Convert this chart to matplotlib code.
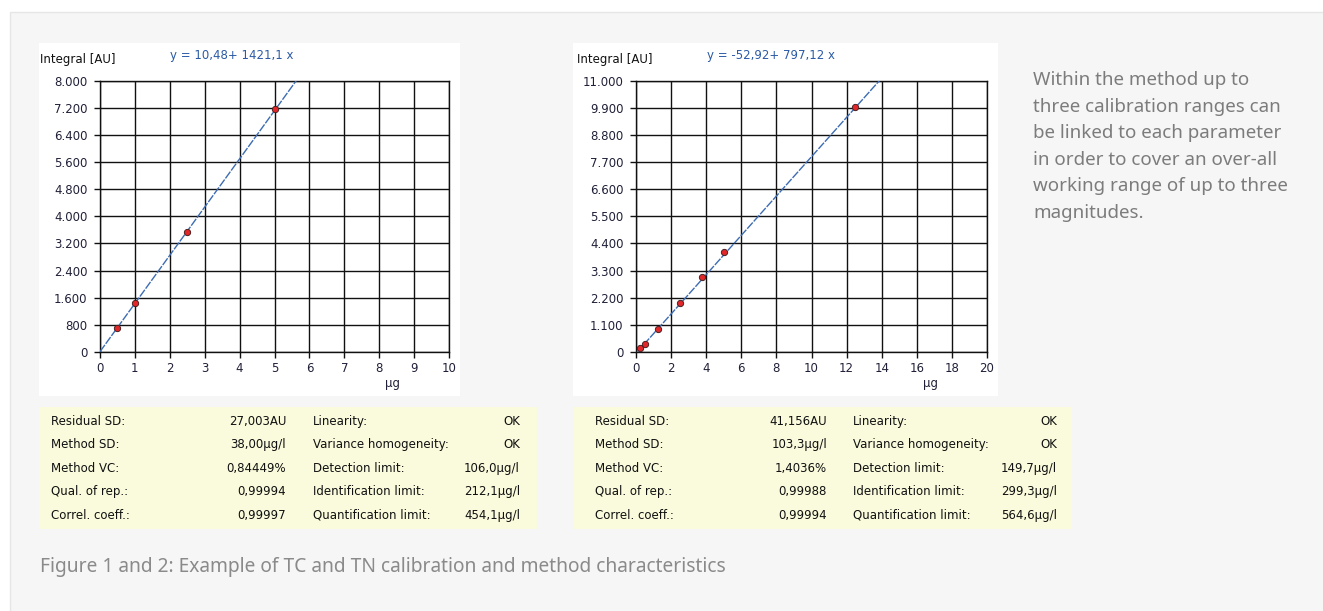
import matplotlib
matplotlib.use("Agg")
import matplotlib.pyplot as plt
from matplotlib.patches import Rectangle
from matplotlib.ticker import FuncFormatter, MultipleLocator

# ---------------- data ----------------
tc_x = [0.5, 1.0, 2.5, 5.0]
tc_y = [720, 1445, 3545, 7160]
tc_intercept, tc_slope = 10.48, 1421.1
tc_equation = "y = 10,48+ 1421,1 x"
tc_xmax, tc_ymax, tc_ystep, tc_xstep = 10, 8000, 800, 1

tn_x = [0.25, 0.5, 1.25, 2.5, 3.75, 5.0, 12.5]
tn_y = [160, 330, 930, 1980, 3030, 4070, 9930]
tn_intercept, tn_slope = -52.92, 797.12
tn_equation = "y = -52,92+ 797,12 x"
tn_xmax, tn_ymax, tn_ystep, tn_xstep = 20, 11000, 1100, 2

tc_stats_left = [("Residual SD:", "27,003AU"), ("Method SD:", "38,00µg/l"),
                 ("Method VC:", "0,84449%"), ("Qual. of rep.:", "0,99994"),
                 ("Correl. coeff.:", "0,99997")]
tc_stats_right = [("Linearity:", "OK"), ("Variance homogeneity:", "OK"),
                  ("Detection limit:", "106,0µg/l"), ("Identification limit:", "212,1µg/l"),
                  ("Quantification limit:", "454,1µg/l")]
tn_stats_left = [("Residual SD:", "41,156AU"), ("Method SD:", "103,3µg/l"),
                 ("Method VC:", "1,4036%"), ("Qual. of rep.:", "0,99988"),
                 ("Correl. coeff.:", "0,99994")]
tn_stats_right = [("Linearity:", "OK"), ("Variance homogeneity:", "OK"),
                  ("Detection limit:", "149,7µg/l"), ("Identification limit:", "299,3µg/l"),
                  ("Quantification limit:", "564,6µg/l")]

side_text = ("Within the method up to\nthree calibration ranges can\nbe linked to each parameter\n"
             "in order to cover an over-all\nworking range of up to three\nmagnitudes.")
caption = "Figure 1 and 2: Example of TC and TN calibration and method characteristics"

# ---------------- layout helpers ----------------
W, H = 1323, 611
fig = plt.figure(figsize=(W / 100, H / 100), dpi=100)
fig.patch.set_facecolor("white")

def fx(px):
    return px / W

def fy(py):
    return 1 - py / H

def rect(x0, y0, x1, y1, fc, ec="none", lw=0, z=-10):
    fig.patches.append(Rectangle((fx(x0), fy(y1)), fx(x1) - fx(x0), fy(y0) - fy(y1),
                                 transform=fig.transFigure, facecolor=fc, edgecolor=ec,
                                 linewidth=lw, zorder=z))

# background panel
rect(10, 12, 1330, 620, "#f6f6f6", ec="#e6e6e6", lw=1.0, z=-20)
# white chart panels
rect(39, 43, 460, 396, "white")
rect(573, 43, 998, 396, "white")
# yellow stats panels
rect(39, 407, 537, 529, "#fafadc")
rect(574, 407, 1072, 529, "#fafadc")

CF = "DejaVu Sans"
CFS = 8.5
TICKC = "#202038"

def thousands(v, pos):
    return f"{int(round(v)):,}".replace(",", ".")

def make_chart(ax_px, xs, ys, b0, b1, xmax, ymax, ystep, xstep, eq, eq_x, lab_x, mu_x):
    x0, y0, x1, y1 = ax_px
    ax = fig.add_axes([fx(x0), fy(y1), fx(x1) - fx(x0), fy(y0) - fy(y1)])
    ax.set_zorder(1)
    ax.set_facecolor("white")
    ax.set_xlim(0, xmax)
    ax.set_ylim(0, ymax)
    ax.xaxis.set_major_locator(MultipleLocator(xstep))
    ax.yaxis.set_major_locator(MultipleLocator(ystep))
    ax.yaxis.set_major_formatter(FuncFormatter(thousands))
    ax.grid(True, color="#111111", linewidth=1.0)
    ax.set_axisbelow(True)
    for s in ax.spines.values():
        s.set_color("#111111")
        s.set_linewidth(1.0)
    ax.tick_params(direction="out", length=4, width=1.0, color="#111111",
                   labelsize=CFS, labelcolor=TICKC)
    ax.tick_params(axis="y", pad=5)
    ax.tick_params(axis="x", pad=3)
    for lab in ax.get_xticklabels() + ax.get_yticklabels():
        lab.set_family(CF)
    # regression line
    xl_start = max(0, -b0 / b1)
    xl_end = (ymax - b0) / b1
    ax.plot([xl_start, xl_end], [b0 + b1 * xl_start, b0 + b1 * xl_end],
            color="#3d6cb3", linewidth=1.0, linestyle=(0, (6, 1)), zorder=3, clip_on=True)
    ax.plot(xs, ys, linestyle="none", marker="o", markersize=4.5,
            markerfacecolor="#e3262a", markeredgecolor="#4a2020", markeredgewidth=0.7, zorder=4)
    fig.text(fx(lab_x), fy(60), "Integral [AU]", fontsize=CFS, family=CF, color="#111111",
             ha="left", va="center")
    fig.text(fx(eq_x), fy(55), eq, fontsize=CFS, family=CF, color="#2b5aa6",
             ha="left", va="center")
    fig.text(fx(mu_x), fy(383), "µg", fontsize=CFS, family=CF, color=TICKC,
             ha="center", va="center")
    return ax

make_chart((100, 80.7, 449, 352), tc_x, tc_y, tc_intercept, tc_slope, tc_xmax, tc_ymax,
           tc_ystep, tc_xstep, tc_equation, 170, 40, 393)
make_chart((636, 80.7, 987, 352), tn_x, tn_y, tn_intercept, tn_slope, tn_xmax, tn_ymax,
           tn_ystep, tn_xstep, tn_equation, 707, 577, 930)

row_base = [425, 448, 472, 495, 519]

def stats(left_rows, right_rows, c1, c2, c3, c4):
    for (lab, val), yy in zip(left_rows, row_base):
        fig.text(fx(c1), fy(yy), lab, fontsize=CFS, family=CF, color="#111111", ha="left", va="baseline")
        fig.text(fx(c2), fy(yy), val, fontsize=CFS, family=CF, color="#111111", ha="right", va="baseline")
    for (lab, val), yy in zip(right_rows, row_base):
        fig.text(fx(c3), fy(yy), lab, fontsize=CFS, family=CF, color="#111111", ha="left", va="baseline")
        fig.text(fx(c4), fy(yy), val, fontsize=CFS, family=CF, color="#111111", ha="right", va="baseline")

stats(tc_stats_left, tc_stats_right, 51, 286, 313, 520)
stats(tn_stats_left, tn_stats_right, 595, 827, 853, 1057)

fig.text(fx(1033), fy(71), side_text, fontsize=13.5, family="Noto Sans", color="#7c7c7c",
         ha="left", va="top", linespacing=1.61)
fig.text(fx(40), fy(567), caption, fontsize=13.8, family="Noto Sans",
         color="#8a8a8a", ha="left", va="center")

fig.savefig("out.png", dpi=100, facecolor=fig.get_facecolor())
